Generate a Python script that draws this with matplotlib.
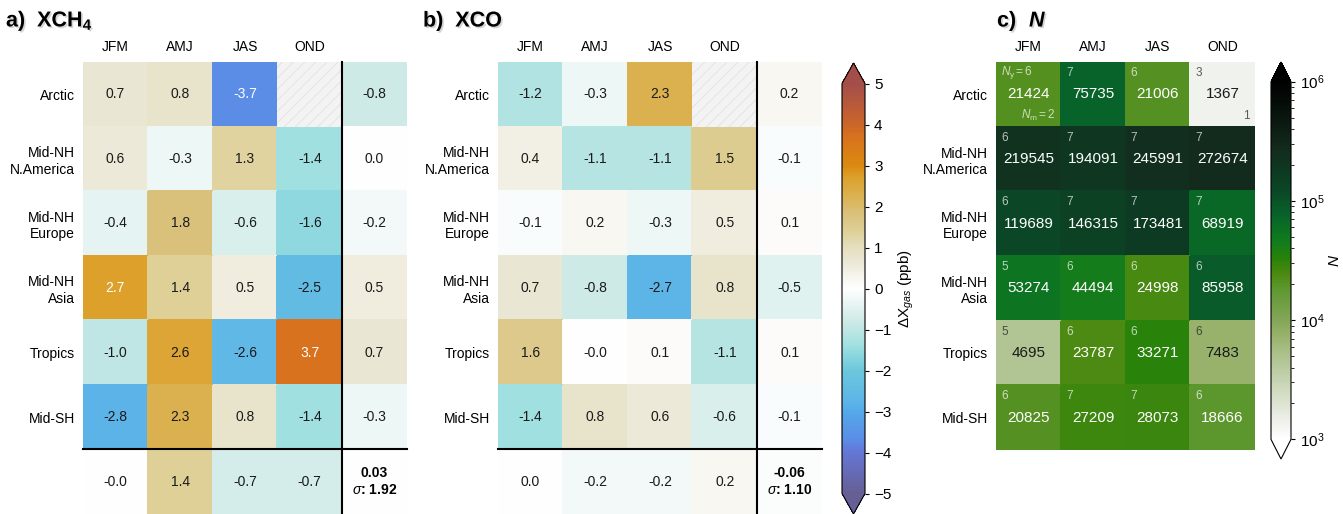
import numpy as np
import matplotlib
matplotlib.use("Agg")
import matplotlib.pyplot as plt
import matplotlib.patheffects as pe
from matplotlib.colors import LinearSegmentedColormap, Normalize, LogNorm
from matplotlib.patches import Rectangle

plt.rcParams['font.family'] = ['Liberation Sans', 'DejaVu Sans']
plt.rcParams['mathtext.fontset'] = 'custom'
plt.rcParams['mathtext.rm'] = 'Liberation Sans'
plt.rcParams['mathtext.it'] = 'Liberation Sans:italic'
plt.rcParams['mathtext.bf'] = 'Liberation Sans:bold'
plt.rcParams['hatch.linewidth'] = 0.6

regions = ['Arctic', 'Mid-NH\nN.America', 'Mid-NH\nEurope', 'Mid-NH\nAsia', 'Tropics', 'Mid-SH']
seasons = ['JFM', 'AMJ', 'JAS', 'OND']
nan = np.nan

# XCH4 seasonal differences (ppb), NaN = no data
xch4 = [[0.7, 0.8, -3.7, nan],
        [0.6, -0.3, 1.3, -1.4],
        [-0.4, 1.8, -0.6, -1.6],
        [2.7, 1.4, 0.5, -2.5],
        [-1.0, 2.6, -2.6, 3.7],
        [-2.8, 2.3, 0.8, -1.4]]
xch4_region_mean = [-0.8, 0.0, -0.2, 0.5, 0.7, -0.3]
xch4_season_mean = [-0.0, 1.4, -0.7, -0.7]
xch4_total, xch4_sigma = 0.03, 1.92

# XCO seasonal differences (ppb)
xco = [[-1.2, -0.3, 2.3, nan],
       [0.4, -1.1, -1.1, 1.5],
       [-0.1, 0.2, -0.3, 0.5],
       [0.7, -0.8, -2.7, 0.8],
       [1.6, -0.0, 0.1, -1.1],
       [-1.4, 0.8, 0.6, -0.6]]
xco_region_mean = [0.2, -0.1, 0.1, -0.5, 0.1, -0.1]
xco_season_mean = [0.0, -0.2, -0.2, 0.2]
xco_total, xco_sigma = -0.06, 1.10

# number of collocations, years and months
n_obs = [[21424, 75735, 21006, 1367],
         [219545, 194091, 245991, 272674],
         [119689, 146315, 173481, 68919],
         [53274, 44494, 24998, 85958],
         [4695, 23787, 33271, 7483],
         [20825, 27209, 28073, 18666]]
n_years = [[6, 7, 6, 3],
           [6, 7, 7, 7],
           [6, 7, 7, 7],
           [5, 6, 6, 6],
           [5, 6, 6, 6],
           [6, 7, 7, 6]]
n_months = [[2, None, None, 1]] + [[None] * 4 for _ in range(5)]

dx_cmap = LinearSegmentedColormap.from_list('dx', [
    (0.00, '#665f95'), (0.10, '#6477d6'), (0.13, '#5b8de6'), (0.20, '#55a9e9'),
    (0.22, '#5bb3e8'), (0.30, '#6cc8dc'), (0.36, '#a0e0e0'), (0.40, '#bfe6e4'),
    (0.42, '#cdeae6'), (0.50, '#ffffff'), (0.57, '#e9e6d2'), (0.60, '#e6dfc0'),
    (0.64, '#ded096'), (0.68, '#d9c27e'), (0.73, '#dbb04e'), (0.77, '#dca22e'),
    (0.80, '#da8a10'), (0.87, '#d8721e'), (0.90, '#cc6628'), (1.00, '#a44e4a')])
dx_norm = Normalize(-5, 5)

n_cmap = LinearSegmentedColormap.from_list('n', [
    (0.00, '#ffffff'), (0.05, '#eef0ea'), (0.22, '#b2c595'), (0.29, '#98b26c'),
    (0.333, '#84a658'), (0.42, '#5e9830'), (0.46, '#4c8a12'), (0.51, '#26820a'),
    (0.56, '#0f7a1e'), (0.63, '#08622a'), (0.69, '#0b4826'), (0.75, '#0d3a22'),
    (0.81, '#132b1d'), (1.00, '#000000')])
n_norm = LogNorm(1e3, 1e6)

W, H = 1343, 514
fig = plt.figure(figsize=(W / 100, H / 100), dpi=100)


def px_axes(x0, y0, x1, y1):
    return fig.add_axes([x0 / W, 1 - y1 / H, (x1 - x0) / W, (y1 - y0) / H])


def style_grid_axes(ax, ncol, nrow):
    ax.set_xlim(0, ncol)
    ax.set_ylim(nrow, 0)
    ax.xaxis.tick_top()
    ax.set_xticks(np.arange(len(seasons)) + 0.5)
    ax.set_xticklabels(seasons, fontsize=10)
    ax.set_yticks(np.arange(len(regions)) + 0.5)
    ax.set_yticklabels(regions, fontsize=10)
    ax.tick_params(length=0, pad=6)
    for s in ax.spines.values():
        s.set_visible(False)


def anomaly_panel(ax, seasonal, region_mean, season_mean, total, sigma):
    nrow, ncol = len(regions), len(seasons)
    grid = np.full((nrow + 1, ncol + 1), np.nan)
    grid[:nrow, :ncol] = seasonal
    grid[:nrow, ncol] = region_mean
    grid[nrow, :ncol] = season_mean
    grid[nrow, ncol] = total
    ax.pcolormesh(np.arange(ncol + 2), np.arange(nrow + 2), np.ma.masked_invalid(grid),
                  cmap=dx_cmap, norm=dx_norm, edgecolors='face', linewidth=0.2)
    for i in range(nrow + 1):
        for j in range(ncol + 1):
            v = grid[i, j]
            if np.isnan(v):
                ax.add_patch(Rectangle((j, i), 1, 1, facecolor='#f3f3f3', edgecolor='#e2e2e2',
                                       hatch='///', linewidth=0))
            elif i == nrow and j == ncol:
                ax.text(j + 0.5, i + 0.5, f"{total:.2f}\n$\\sigma$: {sigma:.2f}", ha='center',
                        va='center', fontsize=10, fontweight='bold', linespacing=1.3)
            else:
                color = 'white' if (v > 2.65 or v < -3.0) else '#1a1a1a'
                ax.text(j + 0.5, i + 0.5, f"{v:.1f}", ha='center', va='center',
                        fontsize=10, color=color)
    ax.plot([ncol, ncol], [0, nrow + 1], color='black', lw=1.5, clip_on=False)
    ax.plot([0, ncol + 1], [nrow, nrow], color='black', lw=1.5, clip_on=False)
    style_grid_axes(ax, ncol + 1, nrow + 1)


ax_a = px_axes(83, 62, 407, 514)
anomaly_panel(ax_a, xch4, xch4_region_mean, xch4_season_mean, xch4_total, xch4_sigma)

ax_b = px_axes(498, 62, 822, 514)
anomaly_panel(ax_b, xco, xco_region_mean, xco_season_mean, xco_total, xco_sigma)

# counts panel
ax_c = px_axes(996, 62, 1255, 450)
counts = np.array(n_obs, dtype=float)
ax_c.pcolormesh(np.arange(len(seasons) + 1), np.arange(len(regions) + 1), counts,
                cmap=n_cmap, norm=n_norm, edgecolors='face', linewidth=0.2)
for i in range(len(regions)):
    for j in range(len(seasons)):
        light = counts[i, j] < 1e4
        color = '#1a1a1a' if light else 'white'
        ax_c.text(j + 0.5, i + 0.5, f"{n_obs[i][j]}", ha='center', va='center',
                  fontsize=11, color=color)
        ny = f"$N_\\mathrm{{y}}={n_years[i][j]}$" if (i, j) == (0, 0) else f"{n_years[i][j]}"
        ax_c.text(j + 0.08, i + 0.17, ny, ha='left', va='center', fontsize=8.5,
                  color=color, alpha=0.7)
        nm = n_months[i][j]
        if nm is not None:
            label = f"$N_\\mathrm{{m}}={nm}$" if (i, j) == (0, 0) else f"{nm}"
            ax_c.text(j + 0.92, i + 0.83, label, ha='right', va='center', fontsize=8.5,
                      color=color, alpha=0.7)
style_grid_axes(ax_c, len(seasons), len(regions))

# colorbars
cax1 = px_axes(842, 63, 865, 514)
cb1 = fig.colorbar(plt.cm.ScalarMappable(norm=dx_norm, cmap=dx_cmap), cax=cax1,
                   extend='both', extendfrac=0.05, ticks=range(-5, 6))
cb1.set_label('ΔX$_{gas}$ (ppb)', fontsize=11)
cb1.ax.tick_params(labelsize=11, length=3, width=0.8)
cb1.outline.set_linewidth(0.8)

cax2 = px_axes(1271, 62, 1291, 459)
cb2 = fig.colorbar(plt.cm.ScalarMappable(norm=n_norm, cmap=n_cmap), cax=cax2,
                   extend='both', extendfrac=0.055)
cb2.set_label('N', fontsize=11, fontstyle='italic', labelpad=2)
cb2.ax.tick_params(labelsize=11, length=3, width=0.8)
cb2.ax.tick_params(which='minor', length=2, width=0.6)
cb2.outline.set_linewidth(0.8)

# panel titles
shadow = [pe.withSimplePatchShadow(offset=(1.2, -1.2), shadow_rgbFace='#888888', alpha=0.35)]
title_kw = dict(fontsize=15.5, fontweight='bold', va='center', path_effects=shadow)
fig.text(6 / W, 1 - 21 / H, r'a)  XCH$_\mathbf{4}$', **title_kw)
fig.text(423 / W, 1 - 21 / H, 'b)  XCO', **title_kw)
fig.text(997 / W, 1 - 21 / H, 'c)', **title_kw)
fig.text(1029 / W, 1 - 21 / H, 'N', fontstyle='italic', **title_kw)

fig.savefig('out.png', dpi=100)
